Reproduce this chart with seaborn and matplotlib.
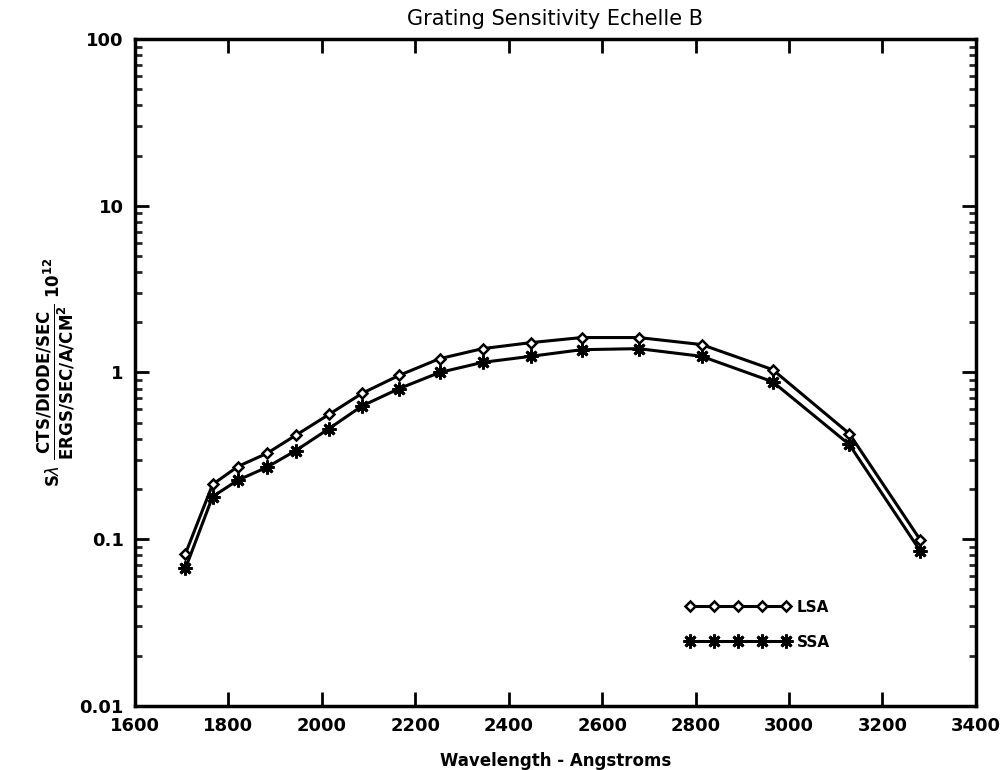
import matplotlib
matplotlib.use("Agg")
import matplotlib.pyplot as plt
import seaborn as sns
import numpy as np
import pandas as pd
from matplotlib.ticker import LogLocator, FixedLocator, FixedFormatter, NullFormatter

# ---- data ----
wavelength = [1708, 1766, 1820, 1882, 1944, 2015, 2086, 2165, 2252, 2344, 2447, 2556, 2678, 2813, 2965, 3129, 3281]
lsa = [0.082, 0.213, 0.273, 0.327, 0.42, 0.56, 0.75, 0.96, 1.21, 1.39, 1.51, 1.62, 1.62, 1.47, 1.04, 0.43, 0.099]
ssa = [0.067, 0.18, 0.226, 0.27, 0.34, 0.46, 0.63, 0.80, 1.00, 1.15, 1.25, 1.37, 1.39, 1.25, 0.88, 0.37, 0.085]
series_names = ["LSA", "SSA"]
xticks = [1600, 1800, 2000, 2200, 2400, 2600, 2800, 3000, 3200, 3400]
yticks = [0.01, 0.1, 1, 10, 100]
ytick_labels = ["0.01", "0.1", "1", "10", "100"]
title = "Grating Sensitivity Echelle B"
xlabel = "Wavelength - Angstroms"

sns.set_style("ticks")
plt.rcParams['font.family'] = ['DejaVu Sans']
plt.rcParams['text.color'] = 'black'
plt.rcParams['axes.labelcolor'] = 'black'

fig = plt.figure(figsize=(10.04, 7.70), dpi=100)
ax = fig.add_axes([0.1345, 0.0831, 0.8375, 0.8663])

df = pd.DataFrame({"wl": wavelength, "LSA": lsa, "SSA": ssa})

sns.lineplot(data=df, x="wl", y="LSA", ax=ax, color="black", lw=2.2,
             marker="D", markersize=5, markerfacecolor="white",
             markeredgecolor="black", markeredgewidth=1.8,
             label=series_names[0], sort=False)
sns.lineplot(data=df, x="wl", y="SSA", ax=ax, color="black", lw=2.2,
             marker=(8, 2, 0), markersize=10, markeredgecolor="black",
             markeredgewidth=2.0, label=series_names[1], sort=False)

ax.set_yscale("log")
ax.set_xlim(1600, 3400)
ax.set_ylim(0.01, 100)

ax.xaxis.set_major_locator(FixedLocator(xticks))
ax.yaxis.set_major_locator(FixedLocator(yticks))
ax.yaxis.set_major_formatter(FixedFormatter(ytick_labels))
ax.yaxis.set_minor_locator(LogLocator(base=10, subs=np.arange(2, 10)))
ax.yaxis.set_minor_formatter(NullFormatter())

for sp in ax.spines.values():
    sp.set_visible(True)
    sp.set_linewidth(2.5)
    sp.set_color("black")

ax.tick_params(axis="both", which="major", direction="in", length=10, width=2,
               top=True, right=True, labelsize=13, pad=8, colors="black")
ax.tick_params(axis="y", which="minor", direction="in", length=5, width=2,
               left=True, right=True)
for lab in ax.get_xticklabels() + ax.get_yticklabels():
    lab.set_fontweight("bold")

ax.set_title(title, fontsize=15, pad=10, color="black")
ax.set_xlabel(xlabel, fontsize=12, fontweight="bold", labelpad=12, color="black")
ax.set_ylabel(r"S$\lambda$ $\dfrac{\mathbf{CTS/DIODE/SEC}}{\mathbf{ERGS/SEC/A/CM^2}}$ $\mathbf{10^{12}}$",
              fontsize=12, fontweight="bold", labelpad=2, color="black")

leg = ax.legend(loc="center left", bbox_to_anchor=(0.645, 0.122), numpoints=5,
                handlelength=6.9, frameon=False, fontsize=11, labelspacing=1.3,
                handletextpad=0.4, borderpad=0)
for t in leg.get_texts():
    t.set_fontweight("bold")
    t.set_color("black")

fig.savefig("out.png", dpi=100, facecolor="white")
